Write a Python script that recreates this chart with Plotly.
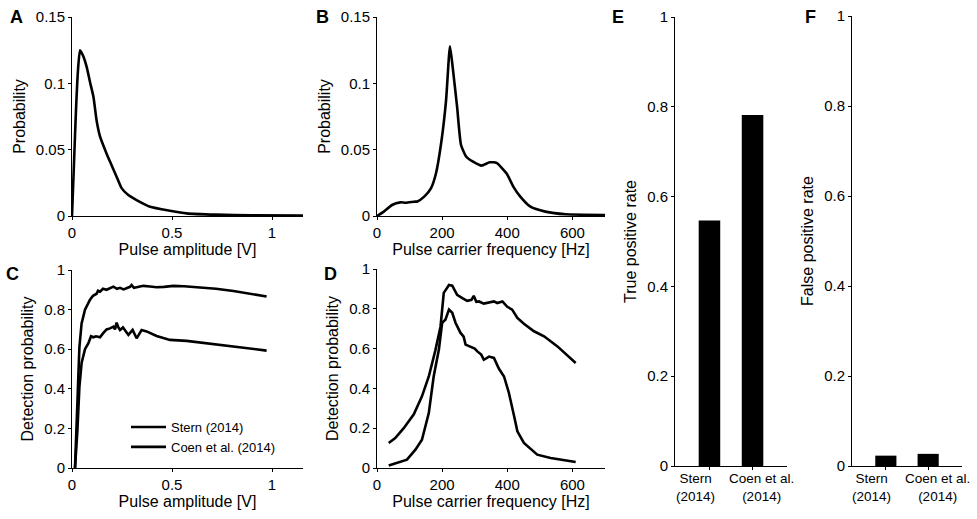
import plotly.graph_objects as go

W, H = 977, 519

# ---- Panel A: pulse amplitude distribution ----
amp_x = [0.0, 0.01, 0.02, 0.03, 0.04, 0.055, 0.073, 0.09, 0.107, 0.123, 0.14, 0.173, 0.19, 0.223, 0.248, 0.28, 0.323, 0.39, 0.49, 0.573, 0.72, 0.9, 1.157]
amp_p = [0.0, 0.04, 0.08, 0.11, 0.125, 0.121, 0.1126, 0.101, 0.09, 0.072, 0.06, 0.047, 0.041, 0.0296, 0.021, 0.016, 0.012, 0.007, 0.004, 0.002, 0.001, 0.0005, 0.0003]

# ---- Panel B: carrier frequency distribution ----
freq_x = [0, 21, 46, 72, 88, 114, 124, 145, 166, 181, 197, 212, 224, 232, 246, 258, 274, 295, 321, 346, 367, 398, 419, 440, 471, 517, 579, 700]
freq_p = [0.0, 0.0033, 0.0083, 0.0103, 0.010, 0.0108, 0.011, 0.0146, 0.021, 0.032, 0.055, 0.087, 0.128, 0.113, 0.082, 0.0535, 0.0447, 0.041, 0.038, 0.0405, 0.040, 0.032, 0.022, 0.0146, 0.007, 0.0033, 0.0013, 0.0008]

# ---- Panel C: detection probability vs amplitude ----
c_stern_x = [0.015, 0.027, 0.037, 0.048, 0.065, 0.09, 0.105, 0.123, 0.13, 0.14, 0.155, 0.173, 0.19, 0.207, 0.225, 0.24, 0.258, 0.273, 0.29, 0.298, 0.31, 0.323, 0.34, 0.357, 0.39, 0.423, 0.46, 0.507, 0.56, 0.64, 0.72, 0.807, 0.89, 0.973]
c_stern_y = [0.0, 0.36, 0.61, 0.73, 0.80, 0.85, 0.87, 0.88, 0.895, 0.89, 0.905, 0.90, 0.91, 0.916, 0.905, 0.91, 0.902, 0.91, 0.915, 0.924, 0.91, 0.913, 0.915, 0.92, 0.917, 0.913, 0.915, 0.92, 0.918, 0.913, 0.905, 0.894, 0.88, 0.866]
c_coen_x = [0.015, 0.027, 0.037, 0.048, 0.065, 0.082, 0.095, 0.107, 0.12, 0.14, 0.155, 0.173, 0.19, 0.207, 0.215, 0.223, 0.232, 0.24, 0.255, 0.265, 0.282, 0.303, 0.323, 0.348, 0.373, 0.423, 0.49, 0.573, 0.65, 0.723, 0.85, 0.973]
c_coen_y = [0.0, 0.19, 0.41, 0.53, 0.60, 0.63, 0.665, 0.66, 0.665, 0.66, 0.68, 0.70, 0.705, 0.714, 0.70, 0.734, 0.71, 0.697, 0.71, 0.697, 0.672, 0.697, 0.655, 0.697, 0.69, 0.667, 0.647, 0.642, 0.632, 0.622, 0.608, 0.593]

# ---- Panel D: detection probability vs carrier frequency ----
d_stern_x = [36, 56, 82, 113, 138, 159, 179, 195, 205, 221, 231, 246, 262, 277, 290, 297, 305, 313, 328, 344, 359, 369, 385, 400, 415, 431, 451, 482, 513, 554, 610]
d_stern_y = [0.126, 0.15, 0.20, 0.27, 0.36, 0.46, 0.59, 0.71, 0.88, 0.92, 0.916, 0.87, 0.854, 0.84, 0.845, 0.865, 0.835, 0.837, 0.826, 0.832, 0.837, 0.829, 0.837, 0.81, 0.796, 0.754, 0.725, 0.687, 0.662, 0.611, 0.528]
d_coen_x = [36, 62, 92, 118, 138, 159, 174, 190, 200, 210, 221, 231, 241, 256, 266, 272, 287, 300, 308, 320, 328, 344, 359, 374, 390, 405, 421, 431, 451, 492, 533, 610]
d_coen_y = [0.012, 0.025, 0.042, 0.092, 0.142, 0.276, 0.46, 0.595, 0.73, 0.745, 0.796, 0.78, 0.73, 0.68, 0.66, 0.62, 0.61, 0.60, 0.586, 0.57, 0.544, 0.56, 0.553, 0.50, 0.46, 0.377, 0.26, 0.184, 0.126, 0.067, 0.050, 0.030]

# ---- Panels E, F: rates ----
methods = ["Stern (2014)", "Coen et al. (2014)"]
method_labels = ["Stern<br>(2014)", "Coen et al.<br>(2014)"]
true_pos = [0.547, 0.782]
false_pos = [0.023, 0.027]

FONT = "Liberation Sans, Arial, Helvetica, sans-serif"
LW = 2.6


def xd(a, b):
    return [a / W, b / W]


def yd(top, bottom):
    return [1 - bottom / H, 1 - top / H]


fig = go.Figure()

fig.add_trace(go.Scatter(x=amp_x, y=amp_p, mode="lines", line=dict(color="black", width=LW, shape="spline", smoothing=0.5),
                         xaxis="x", yaxis="y", showlegend=False))
fig.add_trace(go.Scatter(x=freq_x, y=freq_p, mode="lines", line=dict(color="black", width=LW, shape="spline", smoothing=0.5),
                         xaxis="x2", yaxis="y2", showlegend=False))
fig.add_trace(go.Scatter(x=c_stern_x, y=c_stern_y, mode="lines", name="Stern (2014)",
                         line=dict(color="black", width=LW), xaxis="x3", yaxis="y3"))
fig.add_trace(go.Scatter(x=c_coen_x, y=c_coen_y, mode="lines", name="Coen et al. (2014)",
                         line=dict(color="black", width=LW), xaxis="x3", yaxis="y3"))
fig.add_trace(go.Scatter(x=d_stern_x, y=d_stern_y, mode="lines", line=dict(color="black", width=LW),
                         xaxis="x4", yaxis="y4", showlegend=False))
fig.add_trace(go.Scatter(x=d_coen_x, y=d_coen_y, mode="lines", line=dict(color="black", width=LW),
                         xaxis="x4", yaxis="y4", showlegend=False))
fig.add_trace(go.Bar(x=methods, y=true_pos, marker=dict(color="black", line=dict(width=0)), width=0.5,
                     xaxis="x5", yaxis="y5", showlegend=False))
fig.add_trace(go.Bar(x=methods, y=false_pos, marker=dict(color="black", line=dict(width=0)), width=0.5,
                     xaxis="x6", yaxis="y6", showlegend=False))

common = dict(showline=True, linecolor="black", linewidth=1, ticks="outside", ticklen=3,
              tickcolor="black", showgrid=False, zeroline=False, mirror=False, automargin=False,
              tickfont=dict(size=15, color="black"), title_font=dict(size=16, color="black"))

layout = dict(
    width=W, height=H, margin=dict(l=0, r=0, t=0, b=0, autoexpand=False),
    paper_bgcolor="white", plot_bgcolor="white",
    font=dict(family=FONT, color="black"),
    showlegend=True,
    legend=dict(x=126 / W, y=1 - 412 / H, xanchor="left", yanchor="top",
                bgcolor="rgba(0,0,0,0)", font=dict(size=13), tracegroupgap=0,
                itemwidth=35),
    bargap=0.5,
)

layout["xaxis"] = dict(common, domain=xd(72, 303), range=[0, 1.155], tickvals=[0, 0.5, 1],
                       title=dict(text="Pulse amplitude [V]", standoff=2), anchor="y")
layout["yaxis"] = dict(common, domain=yd(17, 216), range=[0, 0.15], tickvals=[0, 0.05, 0.1, 0.15],
                       title=dict(text="Probability", standoff=6), anchor="x")
layout["xaxis2"] = dict(common, domain=xd(377, 605), range=[0, 700], tickvals=[0, 200, 400, 600],
                        title=dict(text="Pulse carrier frequency [Hz]", standoff=2), anchor="y2")
layout["yaxis2"] = dict(common, domain=yd(17, 216), range=[0, 0.15], tickvals=[0, 0.05, 0.1, 0.15],
                        title=dict(text="Probability", standoff=6), anchor="x2")
layout["xaxis3"] = dict(common, domain=xd(72, 303), range=[0, 1.155], tickvals=[0, 0.5, 1],
                        title=dict(text="Pulse amplitude [V]", standoff=2), anchor="y3")
layout["yaxis3"] = dict(common, domain=yd(270, 468), range=[0, 1], tickvals=[0, 0.2, 0.4, 0.6, 0.8, 1],
                        title=dict(text="Detection probability", standoff=6), anchor="x3")
layout["xaxis4"] = dict(common, domain=xd(377, 605), range=[0, 700], tickvals=[0, 200, 400, 600],
                        title=dict(text="Pulse carrier frequency [Hz]", standoff=2), anchor="y4")
layout["yaxis4"] = dict(common, domain=yd(269, 468), range=[0, 1], tickvals=[0, 0.2, 0.4, 0.6, 0.8, 1],
                        title=dict(text="Detection probability", standoff=6), anchor="x4")
layout["xaxis5"] = dict(common, domain=xd(675, 787), range=[-0.8, 1.8], type="category",
                        showticklabels=False, anchor="y5")
layout["yaxis5"] = dict(common, domain=yd(17, 466), range=[0, 1], tickvals=[0, 0.2, 0.4, 0.6, 0.8, 1],
                        title=dict(text="True positive rate", standoff=6), anchor="x5")
layout["xaxis6"] = dict(common, domain=xd(852, 962), range=[-0.8, 1.8], type="category",
                        showticklabels=False, anchor="y6")
layout["yaxis6"] = dict(common, domain=yd(16, 466), range=[0, 1], tickvals=[0, 0.2, 0.4, 0.6, 0.8, 1],
                        title=dict(text="False positive rate", standoff=6), anchor="x6")

letters = [("A", 16, 17), ("B", 322, 17), ("C", 12, 274), ("D", 330, 274), ("E", 618, 17), ("F", 810, 17)]
annotations = [
    dict(text=f"<b>{t}</b>", x=px / W, y=1 - py / H, xref="paper", yref="paper",
         xanchor="center", yanchor="middle", showarrow=False, font=dict(size=18, color="black"))
    for t, px, py in letters
]
# category labels under the bars (slightly spread apart from bar centres, as in the original)
label_shift = [-14, 9]
for xa, ya in (("x5", "y5"), ("x6", "y6")):
    for cat, lab, sh in zip(methods, method_labels, label_shift):
        annotations.append(dict(text=lab, x=cat, y=0, xref=xa, yref=ya, xanchor="center", yanchor="top",
                                xshift=sh, yshift=-3, showarrow=False,
                                font=dict(size=13.5, color="black")))
layout["annotations"] = annotations

fig.update_layout(layout)
fig.write_html("out.html", config={"displayModeBar": False},
               post_script="document.body.style.margin='0';document.body.style.overflow='hidden';")
